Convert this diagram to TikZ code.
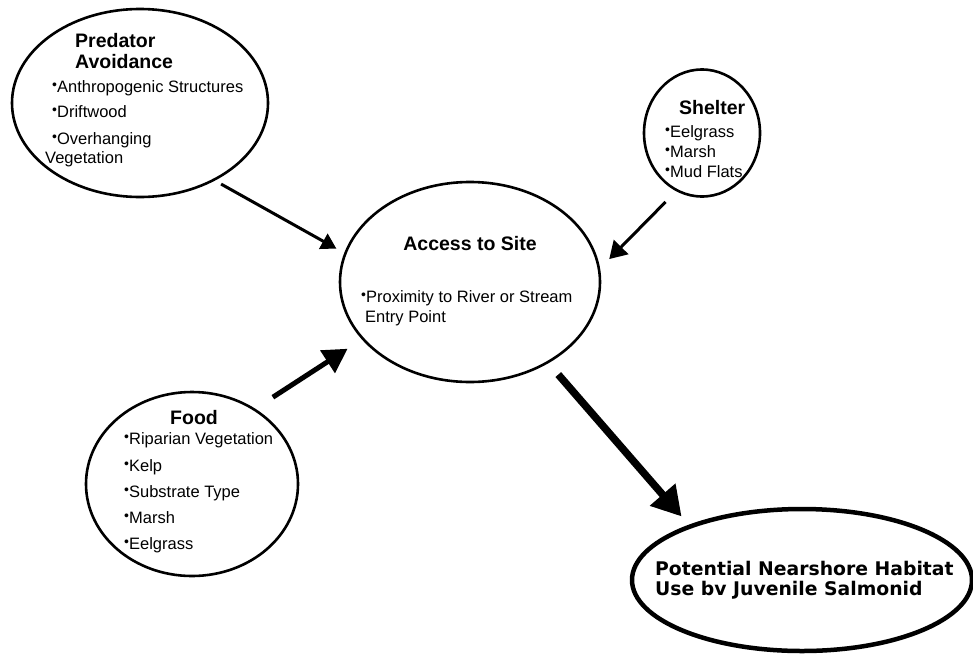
\documentclass[tikz,border=0pt]{standalone}
\usepackage{graphicx}
\usepackage{fontspec}
\setmainfont{Liberation Sans}
\newfontfamily\habfont{DejaVu Sans}
\usetikzlibrary{arrows.meta,shapes.geometric,positioning}
\newcommand{\dotitem}{\raisebox{0.18em}{\scalebox{0.85}{•}}}

\begin{document}
\begin{tikzpicture}[x=1pt,y=-1pt,
factor/.style = {ellipse,draw=black,line width=2.6pt,inner sep=0pt},
heading/.style = {anchor=base west,inner sep=0pt,font=\bfseries\fontsize{19.5}{22}\selectfont},
entry/.style = {anchor=base west,inner sep=0pt,font=\fontsize{16.5}{19}\selectfont},
goal-text/.style = {anchor=base west,inner sep=0pt,font=\habfont\bfseries\fontsize{18.8}{20}\selectfont},
link/.style = {line width=3pt,-{Triangle[length=15pt,width=17pt]}}
]
\useasboundingbox (0,0) rectangle (973,656);

\node [factor, minimum width=256pt, minimum height=188pt] (pred) at (140,103) {};
\node [factor, minimum width=116pt, minimum height=127pt] (shel) at (702,133) {};
\node [factor, minimum width=260pt, minimum height=200pt] (acc) at (470,282) {};
\node [factor, minimum width=212pt, minimum height=184pt] (food) at (192,484) {};
\node [factor, line width=4.5pt, minimum width=340pt, minimum height=142pt] (goal) at (802,580) {};

% labels
\node [heading] (pred-t1) at (75,47) {Predator};
\node [heading] (pred-t2) at (75,68) {Avoidance};
\node [entry] (pred-1) at (52,92) {\dotitem Anthropogenic Structures};
\node [entry] (pred-2) at (52,117) {\dotitem Driftwood};
\node [entry] (pred-3) at (52,144) {\dotitem Overhanging};
\node [entry] (pred-4) at (45,163) {Vegetation};

\node [heading] (shel-t) at (679,114) {Shelter};
\node [entry] (shel-1) at (665,137) {\dotitem Eelgrass};
\node [entry] (shel-2) at (665,157) {\dotitem Marsh};
\node [entry] (shel-3) at (665,177) {\dotitem Mud Flats};

\node [heading, anchor=base] (acc-t) at (470,250) {Access to Site};
\node [entry] (acc-1) at (361,302) {\dotitem Proximity to River or Stream};
\node [entry] (acc-2) at (365,322) {Entry Point};

\node [heading] (food-t) at (170,424) {Food};
\node [entry] (food-1) at (124,444) {\dotitem Riparian Vegetation};
\node [entry] (food-2) at (124,471) {\dotitem Kelp};
\node [entry] (food-3) at (124,497) {\dotitem Substrate Type};
\node [entry] (food-4) at (124,523) {\dotitem Marsh};
\node [entry] (food-5) at (124,549) {\dotitem Eelgrass};

\node [goal-text] (goal-1) at (655,575) {Potential Nearshore Habitat};
\node [goal-text] (goal-2) at (655,595) {Use bv Juvenile Salmonid};

% arrows
\draw [link, shorten <=7pt, shorten >=9pt] (pred.-46) -- (acc.167);
\draw [link, -{Triangle[length=17pt,width=20pt]}, shorten <=15pt, shorten >=13pt] (shel.246) -- (acc.6);
\draw [link, line width=5pt, -{Triangle[length=24pt,width=26pt]}, shorten <=21pt, shorten >=17pt] (food.50) -- (acc.208);
\draw [link, line width=7.5pt, -{Triangle[length=29pt,width=32pt]}, shorten <=15pt, shorten >=11pt] (acc.-46) -- (goal.154);

\end{tikzpicture}
\end{document}
